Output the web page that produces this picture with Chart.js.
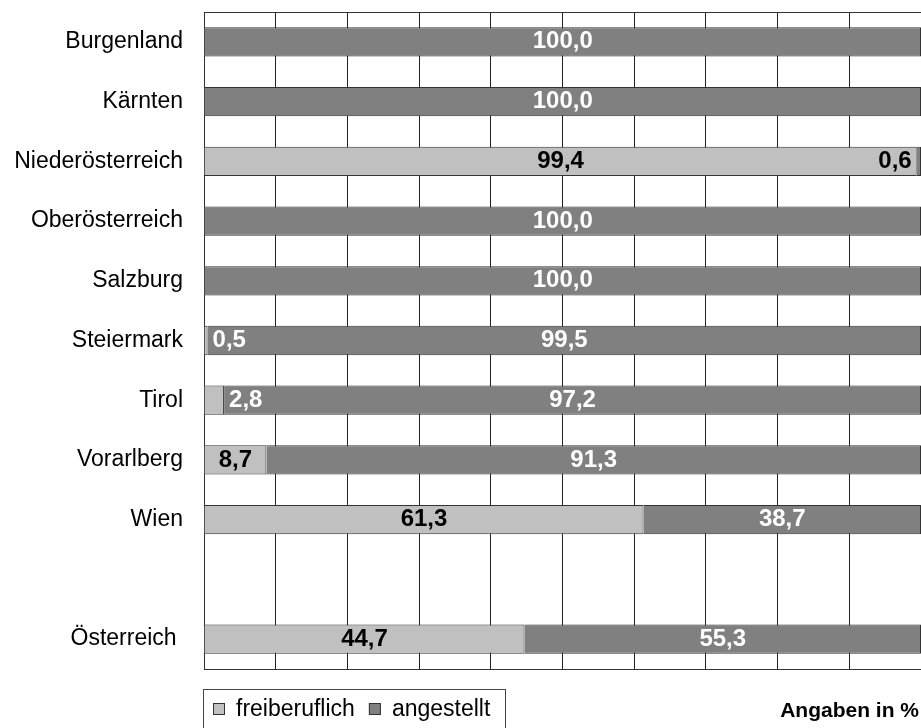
<!DOCTYPE html>
<html lang="de">
<head>
<meta charset="utf-8">
<title>Freiberuflich / angestellt nach Bundesland</title>
<script src="https://cdn.jsdelivr.net/npm/chart.js@4/dist/chart.umd.min.js"></script>
<style>
  html, body { margin: 0; padding: 0; background: #fff; }
  #wrap { width: 921px; height: 728px; }
</style>
</head>
<body>
<div id="wrap"><canvas id="chart" width="921" height="728"></canvas></div>
<script>
// Bundesländer (empty slot separates Wien from the Austria total)
const regions = ['Burgenland', 'Kärnten', 'Niederösterreich', 'Oberösterreich', 'Salzburg',
                 'Steiermark', 'Tirol', 'Vorarlberg', 'Wien', '', 'Österreich '];
// Anteile in Prozent
const freiberuflich = [0, 0, 99.4, 0, 0, 0.5, 2.8, 8.7, 61.3, null, 44.7];
const angestellt    = [100, 100, 0.6, 100, 100, 99.5, 97.2, 91.3, 38.7, null, 55.3];
const seriesNames = ['freiberuflich', 'angestellt'];
const xTicks = [0, 10, 20, 30, 40, 50, 60, 70, 80, 90, 100];

const FONT = "'Liberation Sans', Arial, Helvetica, sans-serif";
const fills = ['#c0c0c0', '#808080'];
const labelColors = ['#000000', '#ffffff'];

const fmt = v => v.toFixed(1).replace('.', ',');

// Value labels inside the segments; narrow segments get their label beside them
const valueLabels = {
  id: 'valueLabels',
  afterDatasetsDraw(chart) {
    const ctx = chart.ctx;
    ctx.save();
    ctx.font = 'bold 24px ' + FONT;
    ctx.textBaseline = 'middle';
    chart.data.datasets.forEach((ds, i) => {
      const meta = chart.getDatasetMeta(i);
      meta.data.forEach((el, j) => {
        const v = ds.data[j];
        if (v === null || v === 0) return;
        const left = Math.min(el.x, el.base), right = Math.max(el.x, el.base);
        const text = fmt(v);
        const tw = ctx.measureText(text).width;
        if (tw + 8 <= right - left) {
          ctx.textAlign = 'center';
          ctx.fillStyle = labelColors[i];
          ctx.fillText(text, (left + right) / 2, el.y);
        } else if (i === 0) {
          ctx.textAlign = 'left';
          ctx.fillStyle = labelColors[1];
          ctx.fillText(text, right + 5, el.y);
        } else {
          ctx.textAlign = 'right';
          ctx.fillStyle = labelColors[0];
          ctx.fillText(text, left - 5, el.y);
        }
      });
    });
    ctx.restore();
  }
};

// Framed legend at the lower left and the unit note at the lower right
const footer = {
  id: 'footer',
  afterDraw(chart) {
    const ctx = chart.ctx;
    ctx.save();
    ctx.strokeStyle = '#444';
    ctx.lineWidth = 1;
    ctx.strokeRect(203.5, 689.5, 302, 50);
    ctx.font = '23px ' + FONT;
    ctx.textBaseline = 'alphabetic';
    ctx.textAlign = 'left';
    let x = 213;
    chart.data.datasets.forEach((ds, i) => {
      ctx.fillStyle = ds.backgroundColor;
      ctx.fillRect(x, 703, 12, 12);
      ctx.strokeStyle = '#333';
      ctx.strokeRect(x + 0.5, 703.5, 11, 11);
      ctx.fillStyle = '#000';
      ctx.fillText(ds.label, x + 23, 716);
      x += 23 + ctx.measureText(ds.label).width + 14;
    });
    ctx.font = 'bold 21px ' + FONT;
    ctx.textAlign = 'right';
    ctx.fillText('Angaben in %', 919, 717);
    ctx.restore();
  }
};

new Chart(document.getElementById('chart'), {
  type: 'bar',
  data: {
    labels: regions,
    datasets: [
      { label: seriesNames[0], data: freiberuflich, backgroundColor: fills[0] },
      { label: seriesNames[1], data: angestellt, backgroundColor: fills[1] }
    ]
  },
  options: {
    indexAxis: 'y',
    responsive: false,
    animation: false,
    devicePixelRatio: 1,
    layout: { padding: { top: 12, right: 0, bottom: 59, left: 0 } },
    datasets: {
      bar: {
        borderColor: '#333',
        borderWidth: 1,
        barPercentage: 0.49,
        categoryPercentage: 1
      }
    },
    plugins: { legend: { display: false }, tooltip: { enabled: false } },
    scales: {
      x: {
        stacked: true,
        min: 0,
        max: 100,
        afterBuildTicks(scale) { scale.ticks = xTicks.map(v => ({ value: v })); },
        ticks: { display: false },
        grid: { color: '#222', lineWidth: 1, drawTicks: false },
        border: { display: true, color: '#333', width: 1 },
        afterFit(scale) { scale.height = 0; scale.paddingLeft = 0; scale.paddingRight = 0; }
      },
      xTop: {
        position: 'top',
        axis: 'x',
        min: 0,
        max: 100,
        ticks: { display: false },
        grid: { display: false, drawTicks: false },
        border: { display: true, color: '#333', width: 1 },
        afterFit(scale) { scale.height = 0; scale.paddingLeft = 0; scale.paddingRight = 0; }
      },
      y: {
        stacked: true,
        grid: { display: false, drawTicks: false },
        border: { display: true, color: '#333', width: 1 },
        ticks: { color: '#000', padding: 21, font: { family: FONT, size: 23 } },
        afterFit(scale) { scale.width = 204; scale.paddingTop = 0; scale.paddingBottom = 0; }
      }
    }
  },
  plugins: [valueLabels, footer]
});
</script>
</body>
</html>
